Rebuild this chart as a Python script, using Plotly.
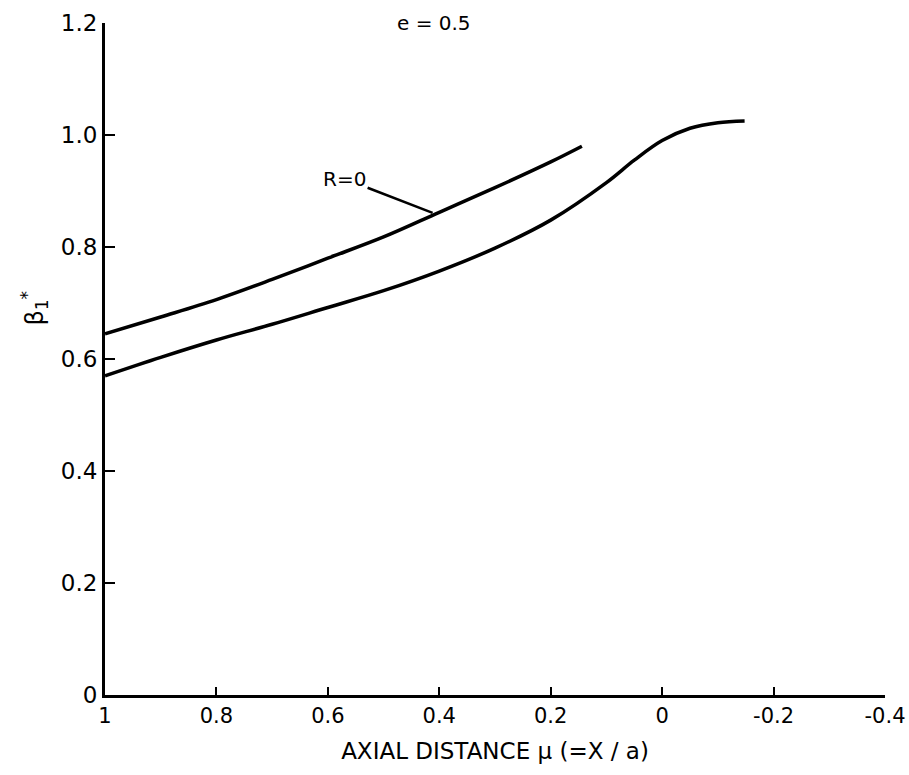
import plotly.graph_objects as go

# Upper curve (R = 0)
x_r0 = [1.0, 0.9, 0.8, 0.7, 0.6, 0.5, 0.4, 0.3, 0.2, 0.144]
y_r0 = [0.645, 0.675, 0.706, 0.742, 0.780, 0.818, 0.862, 0.906, 0.952, 0.980]

# Lower curve
x_low = [1.0, 0.9, 0.8, 0.7, 0.6, 0.5, 0.4, 0.3, 0.2, 0.1, 0.05, 0.0, -0.05, -0.1, -0.148]
y_low = [0.570, 0.603, 0.634, 0.662, 0.692, 0.722, 0.757, 0.798, 0.848, 0.915, 0.955, 0.990, 1.012, 1.022, 1.025]

x_tickvals = [1, 0.8, 0.6, 0.4, 0.2, 0, -0.2, -0.4]
x_ticktext = ["1", "0.8", "0.6", "0.4", "0.2", "0", "-0.2", "-0.4"]
y_tickvals = [0, 0.2, 0.4, 0.6, 0.8, 1.0, 1.2]
y_ticktext = ["0", "0.2", "0.4", "0.6", "0.8", "1.0", "1.2"]

FONT = "DejaVu Sans"

fig = go.Figure()
fig.add_trace(go.Scatter(x=x_r0, y=y_r0, mode="lines", line=dict(color="black", width=3.5, shape="spline"),
                         showlegend=False, hoverinfo="skip"))
fig.add_trace(go.Scatter(x=x_low, y=y_low, mode="lines", line=dict(color="black", width=3.5, shape="spline"),
                         showlegend=False, hoverinfo="skip"))

fig.add_annotation(x=0.412, y=0.861, text="R=0", showarrow=True, arrowhead=0, arrowwidth=2.5,
                   arrowcolor="black", ax=-88, ay=-34, standoff=0,
                   font=dict(family=FONT, size=20, color="black"))
fig.add_annotation(x=0.41, y=1.2, text="e = 0.5", showarrow=False, yanchor="middle",
                   font=dict(family=FONT, size=20, color="black"))
# y-axis title
fig.add_annotation(xref="paper", yref="y", x=-0.09, y=0.69, text="β<sub>1</sub><sup>*</sup>",
                   textangle=-90, showarrow=False, xanchor="center", yanchor="middle",
                   font=dict(family=FONT, size=24, color="black"))

fig.update_layout(
    width=909, height=775,
    margin=dict(l=105, r=24, t=23, b=80, autoexpand=False),
    paper_bgcolor="white", plot_bgcolor="white",
    font=dict(family=FONT, size=20, color="black"),
    xaxis=dict(range=[1, -0.4], tickvals=x_tickvals, ticktext=x_ticktext,
               ticks="inside", ticklen=8, tickwidth=2, tickcolor="black",
               showline=True, linecolor="black", linewidth=3,
               showgrid=False, zeroline=False, automargin=False,
               tickfont=dict(family=FONT, size=21),
               title=dict(text="AXIAL DISTANCE μ (=X / a)", font=dict(family=FONT, size=23), standoff=16)),
    yaxis=dict(range=[0, 1.2], tickvals=y_tickvals, ticktext=y_ticktext,
               ticks="inside", ticklen=10, tickwidth=2, tickcolor="black",
               showline=True, linecolor="black", linewidth=3,
               showgrid=False, zeroline=False, automargin=False,
               tickfont=dict(family=FONT, size=23)),
)

fig.write_html("out.html")
